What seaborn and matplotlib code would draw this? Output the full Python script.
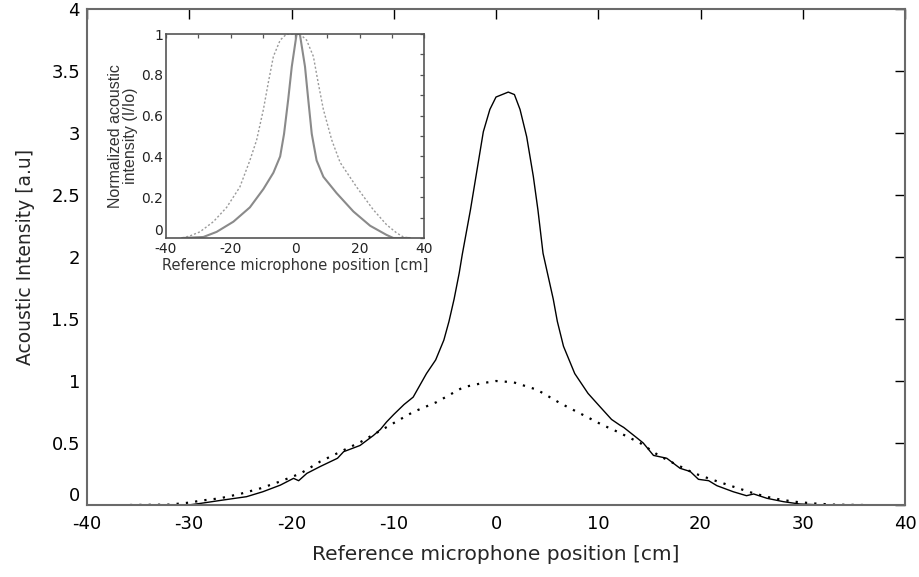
import numpy as np
import pandas as pd
import matplotlib
matplotlib.use("Agg")
import matplotlib.pyplot as plt
import seaborn as sns

# ---- main chart data ----
solid_x = [-35.8, -32, -29.9, -28.9, -26.7, -24.4, -22.8, -21.1, -19.8, -19.3, -18.5, -17.2, -15.5, -14.9,
           -13.3, -12.0, -11.3, -10.7, -10.0, -9.0, -8.1, -6.8, -5.9, -5.1, -4.6, -4.1, -3.6, -3.3, -2.5,
           -1.7, -1.24, -0.6, 0.0, 0.6, 1.2, 1.8, 2.35, 3.0, 3.65, 4.1, 4.6, 5.6, 6.0, 6.6, 7.7, 9.0, 10.2,
           11.3, 12.1, 12.5, 13.8, 14.4, 15.4, 16.7, 18.0, 19.0, 19.8, 20.8, 21.6, 23.2, 24.5, 25.2, 26.5,
           28.1, 29.7, 32, 35.9]
solid_y = [0, 0, 0.002, 0.013, 0.04, 0.067, 0.107, 0.16, 0.215, 0.196, 0.255, 0.31, 0.377, 0.43,
           0.48, 0.56, 0.61, 0.67, 0.73, 0.81, 0.87, 1.06, 1.17, 1.33, 1.48, 1.66, 1.87, 2.02, 2.38,
           2.78, 3.01, 3.19, 3.29, 3.31, 3.33, 3.31, 3.19, 2.97, 2.65, 2.38, 2.03, 1.66, 1.48, 1.28, 1.06, 0.90, 0.79,
           0.69, 0.645, 0.625, 0.54, 0.50, 0.40, 0.377, 0.296, 0.27, 0.207, 0.196, 0.156, 0.107, 0.075, 0.089, 0.054,
           0.027, 0.008, 0, 0]

dot_x = [-35.8, -32, -29.9, -28.9, -27.0, -25.0, -23.0, -21.1, -19.1, -17.2, -15.2, -13.2, -11.3, -9.6, -8.1,
         -5.8, -3.2, -1.5, 0, 1.7, 4.0, 6.3, 8.9, 10.3, 11.9, 14.1, 15.9, 17.4, 19.4, 21.3, 23.2, 25.2, 27.1,
         29.1, 31.0, 33, 35.9]
dot_y = [0, 0.003, 0.02, 0.035, 0.054, 0.09, 0.135, 0.19, 0.255, 0.35, 0.43, 0.51, 0.60, 0.68, 0.75,
         0.83, 0.95, 0.98, 1.0, 0.99, 0.93, 0.82, 0.71, 0.65, 0.59, 0.50, 0.40, 0.336, 0.255, 0.20, 0.148, 0.094, 0.054,
         0.027, 0.013, 0.003, 0]

# ---- inset data (normalized) ----
in_solid_x = [-35, -28.4, -24.3, -19.1, -14.0, -9.8, -6.7, -4.6, -3.4, -2.1, -1.0, 0.5, 1.5, 3.1, 4.1, 5.2,
              6.7, 8.8, 12.9, 18.1, 23.3, 28.4, 30.5, 35.6]
in_solid_y = [0, 0.005, 0.03, 0.08, 0.15, 0.24, 0.32, 0.40, 0.51, 0.68, 0.84, 1.0, 1.0, 0.84, 0.68, 0.51,
              0.38, 0.30, 0.22, 0.13, 0.06, 0.015, 0, 0]
in_dot_x = [-35, -32.6, -29.5, -25.3, -21.2, -17.1, -14.0, -11.9, -9.8, -8.3, -6.7, -4.6, -2.6, 0, 1.5, 3.6,
            5.7, 7.2, 8.8, 11.4, 14.0, 19.1, 24.2, 28.4, 31.5, 33.6, 35.6]
in_dot_y = [0, 0.01, 0.03, 0.08, 0.15, 0.25, 0.38, 0.48, 0.63, 0.76, 0.89, 0.97, 1.0, 1.0, 1.0, 0.97,
            0.89, 0.76, 0.63, 0.48, 0.37, 0.25, 0.14, 0.065, 0.025, 0.005, 0]

main_xticks = [-40, -30, -20, -10, 0, 10, 20, 30, 40]
main_yticks = [0, 0.5, 1, 1.5, 2, 2.5, 3, 3.5, 4]
main_yticklabels = ["0", "0.5", "1", "1.5", "2", "2.5", "3", "3.5", "4"]
inset_xticks = [-40, -20, 0, 20, 40]
inset_yticks = [0, 0.2, 0.4, 0.6, 0.8, 1]
inset_yticklabels = ["0", "0.2", "0.4", "0.6", "0.8", "1"]

sns.set_style("white")
plt.rcParams['font.family'] = ['DejaVu Sans']

fig = plt.figure(figsize=(9.19, 5.77), dpi=100)
ax = fig.add_axes([87/919, 1-505/577, (905-87)/919, (505-9)/577])

sns.lineplot(x=solid_x, y=solid_y, ax=ax, color="black", lw=1.0, sort=False, estimator=None)
sns.lineplot(x=dot_x, y=dot_y, ax=ax, color="black", lw=1.6, sort=False, estimator=None)
ax.lines[-1].set_dashes([1.0, 3.2])

ax.set_xlim(-40, 40)
ax.set_ylim(0, 4)
ax.set_xticks(main_xticks)
ax.set_xticklabels([str(t) for t in main_xticks])
ax.set_yticks(main_yticks)
ax.set_yticklabels(main_yticklabels)
ax.tick_params(direction="in", length=7, width=1.0, color="black", labelsize=13,
               top=True, right=True, pad=5, labelcolor="black")
ax.tick_params(axis="x", pad=7)
ax.get_yticklabels()[0].set_va("bottom")
for s in ax.spines.values():
    s.set_color("#6a6a6a")
    s.set_linewidth(1.5)
    s.set_visible(True)
ax.set_xlabel("Reference microphone position [cm]", fontsize=14.5, labelpad=9)
ax.set_ylabel("Acoustic Intensity [a.u]", fontsize=13.5, labelpad=12)

# ---- inset ----
ins = fig.add_axes([166/919, 1-238/577, (424-166)/919, (238-34)/577])
sns.lineplot(x=in_solid_x, y=in_solid_y, ax=ins, color="#8a8a8a", lw=1.5, sort=False, estimator=None)
sns.lineplot(x=in_dot_x, y=in_dot_y, ax=ins, color="#9a9a9a", lw=1.0, sort=False, estimator=None)
ins.lines[-1].set_dashes([1.5, 1.5])
ins.set_xlim(-40, 40)
ins.set_ylim(0, 1)
ins.set_xticks(inset_xticks)
ins.set_xticklabels([str(t) for t in inset_xticks])
ins.set_yticks(inset_yticks)
ins.set_yticklabels(inset_yticklabels)
ins.set_xticks(np.arange(-40, 41, 10), minor=True)
ins.set_yticks(np.arange(0, 1.01, 0.1), minor=True)
ins.tick_params(which="both", direction="in", length=3, width=0.9, color="#555555",
                top=True, right=True, labelsize=10, pad=2, labelcolor="#222222")
ins.tick_params(axis="x", pad=3)
ins.get_yticklabels()[0].set_va("bottom")
for s in ins.spines.values():
    s.set_color("#555555")
    s.set_linewidth(1.2)
    s.set_visible(True)
ins.set_xlabel("Reference microphone position [cm]", fontsize=10.5, color="#333333", labelpad=1)
ins.set_ylabel("Normalized acoustic\nintensity (I/Io)", fontsize=11.5, color="#333333",
               labelpad=2, linespacing=1.0, family=["Liberation Sans", "DejaVu Sans"])

fig.savefig("out.png", dpi=100)
